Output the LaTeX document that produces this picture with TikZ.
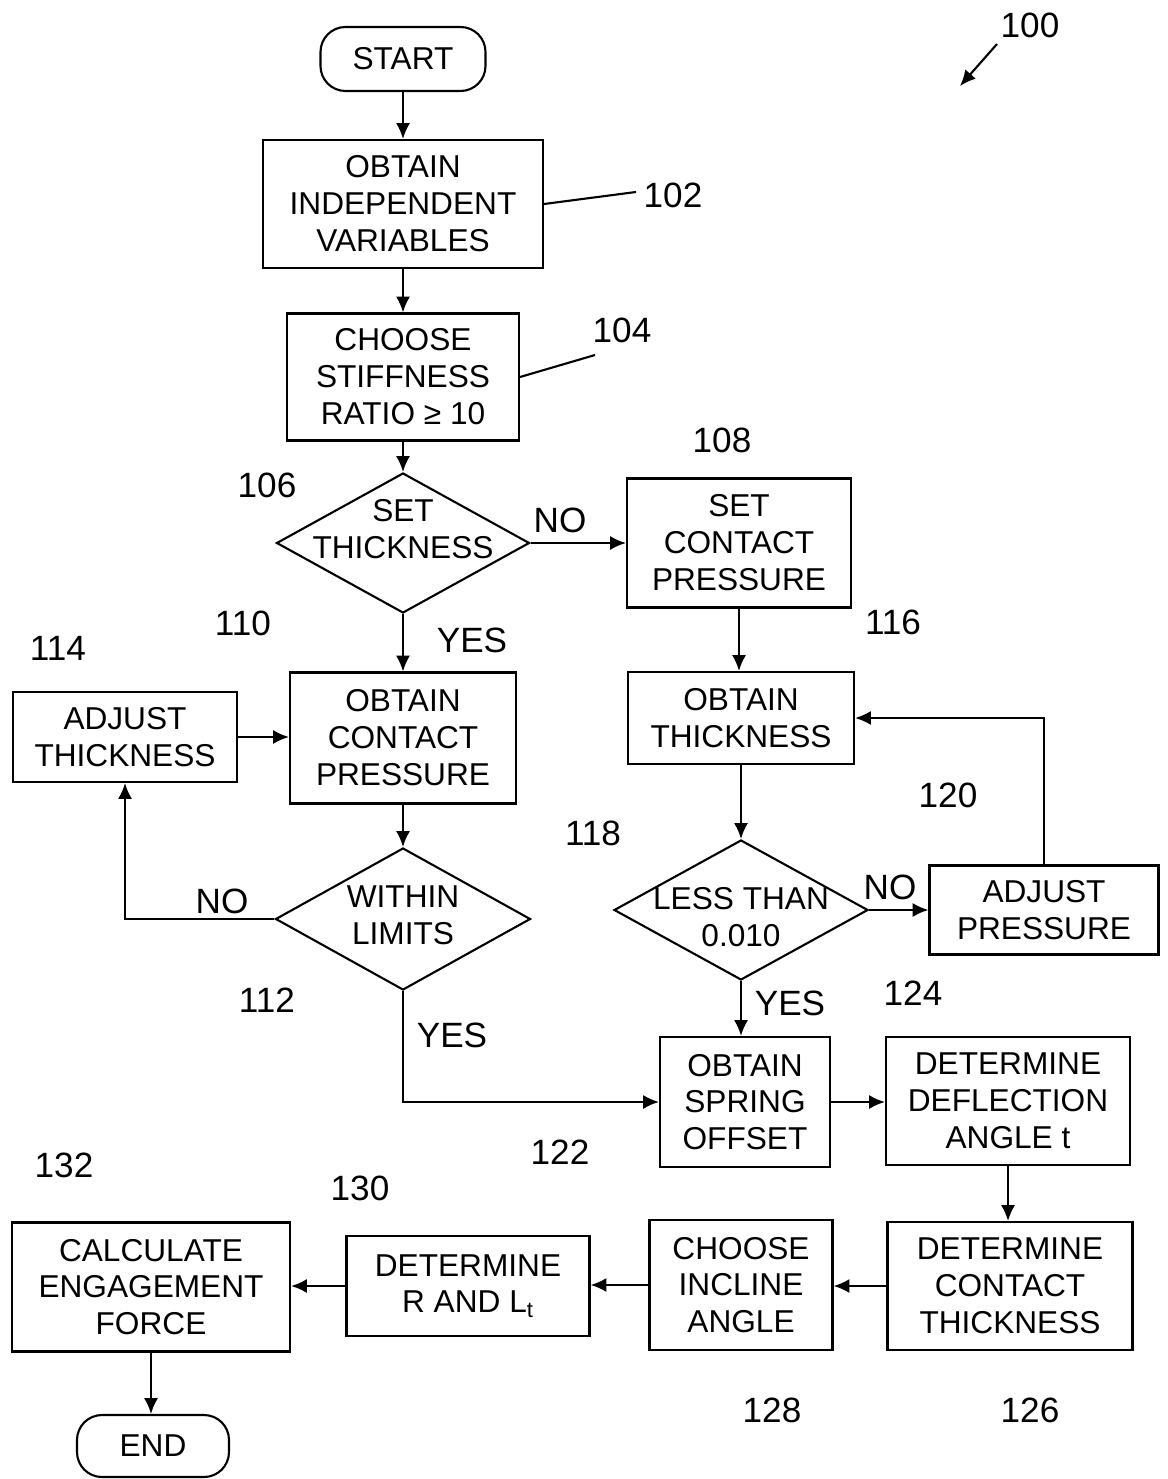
\documentclass[tikz,border=0pt]{standalone}
\usepackage{fontspec}
\setmainfont{Liberation Sans}
\usetikzlibrary{shapes.geometric,arrows.meta}
\begin{document}
\begin{tikzpicture}[x=0.02cm,y=-0.02cm,
  >={Latex[length=9pt,width=8pt]},
  every node/.style={font=\fontsize{18}{21}\selectfont, text=black},
  wh/.style 2 args={minimum width=#1*0.02cm, minimum height=#2*0.02cm},
  box/.style={draw, line width=1.2pt, align=center, inner sep=0pt},
  term/.style={box, rounded corners=0.5cm},
  decision/.style={draw, line width=1.2pt, diamond, inner sep=0pt},
  dtext/.style={align=center},
  num/.style={font=\fontsize{20}{24}\selectfont},
  yn/.style={font=\fontsize{20}{24}\selectfont},
  conn/.style={line width=1.2pt, ->},
  leader/.style={line width=1.2pt}]
\useasboundingbox (0,0) rectangle (1167,1479);

% main nodes
\node[term, wh={165}{64}] (start) at (403,59) {START};
\node[box, wh={280}{128}] (b102) at (403,204) {OBTAIN\\INDEPENDENT\\VARIABLES};
\node[box, wh={232}{127}] (b104) at (403,377) {CHOOSE\\STIFFNESS\\RATIO ≥ 10};
\node[decision, wh={253}{140}, label={[dtext, yshift=8pt]center:{SET\\THICKNESS}}] (d106) at (403,543) {};
\node[box, wh={224}{129}] (b108) at (739,543) {SET\\CONTACT\\PRESSURE};
\node[box, wh={226}{131}] (b110) at (403,738) {OBTAIN\\CONTACT\\PRESSURE};
\node[box, wh={224}{90}] (b114) at (125,737) {ADJUST\\THICKNESS};
\node[decision, wh={255}{142}, label={[dtext, yshift=2pt]center:{WITHIN\\LIMITS}}] (d112) at (403,919) {};
\node[box, wh={226}{92}] (b116) at (741,718) {OBTAIN\\THICKNESS};
\node[decision, wh={254}{140}, label={[dtext, yshift=-4pt]center:{LESS THAN\\0.010}}] (d118) at (741,910) {};
\node[box, wh={229}{89}] (b120) at (1044,910) {ADJUST\\PRESSURE};
\node[box, wh={170}{130}] (b122) at (745,1102) {OBTAIN\\SPRING\\OFFSET};
\node[box, wh={244}{128}] (b124) at (1008,1101) {DETERMINE\\DEFLECTION\\ANGLE t};
\node[box, wh={245}{128}] (b126) at (1010,1286) {DETERMINE\\CONTACT\\THICKNESS};
\node[box, wh={183}{130}] (b128) at (741,1285) {CHOOSE\\INCLINE\\ANGLE};
\node[box, wh={243}{100}] (b130) at (468,1286) {DETERMINE\\R AND L\textsubscript{t}};
\node[box, wh={278}{129}] (b132) at (151,1287) {CALCULATE\\ENGAGEMENT\\FORCE};
\node[term, wh={152}{62}] (end) at (153,1446) {END};

% reference numerals
\node[num] (n100) at (1030,25) {100};
\node[num] (n102) at (673,195) {102};
\node[num] (n104) at (622,330) {104};
\node[num] (n106) at (267,485) {106};
\node[num] (n108) at (722,440) {108};
\node[num] (n110) at (243,623) {110};
\node[num] (n114) at (58,648) {114};
\node[num] (n112) at (267,1000) {112};
\node[num] (n116) at (893,622) {116};
\node[num] (n118) at (593,833) {118};
\node[num] (n120) at (948,795) {120};
\node[num] (n124) at (913,993) {124};
\node[num] (n122) at (560,1152) {122};
\node[num] (n132) at (64,1165) {132};
\node[num] (n130) at (360,1188) {130};
\node[num] (n128) at (772,1410) {128};
\node[num] (n126) at (1030,1410) {126};

% yes / no labels
\node[yn] (no106) at (560,520) {NO};
\node[yn] (yes106) at (472,640) {YES};
\node[yn] (no112) at (222,901) {NO};
\node[yn] (yes112) at (452,1035) {YES};
\node[yn] (no118) at (890,887) {NO};
\node[yn] (yes118) at (790,1003) {YES};

% leaders and figure arrow
\coordinate (l102) at (636,192);
\coordinate (l104) at (595,355);
\coordinate (a100s) at (997,44);
\coordinate (a100e) at (960,86);
\draw[leader] (b102.east) -- (l102);
\draw[leader] (b104.east) -- (l104);
\draw[conn] (a100s) -- (a100e);

% connectors
\draw[conn] (start) -- (b102);
\draw[conn] (b102) -- (b104);
\draw[conn] (b104) -- (d106.north);
\draw[conn] (d106.east) -- (b108.west);
\draw[conn] (d106.south) -- (b110.north);
\draw[conn] (b108.south) -- (b108.south |- b116.north);
\draw[conn] (b114.east) -- (b114.east -| b110.west);
\draw[conn] (b110) -- (d112.north);
\draw[conn] (d112.west) -| (b114.south);
\draw[conn] (d112.south) |- (b122.west);
\draw[conn] (b116.south) -- (d118.north);
\draw[conn] (d118.east) -- (b120.west);
\draw[conn] (b120.north) |- (b116.east);
\draw[conn] (d118.south) -- (d118.south |- b122.north);
\draw[conn] (b122.east) -- (b124.west |- b122.east);
\draw[conn] (b124.south) -- (b124.south |- b126.north);
\draw[conn] (b126.west) -- (b128.east |- b126.west);
\draw[conn] (b128.west) -- (b130.east |- b128.west);
\draw[conn] (b130.west) -- (b132.east |- b130.west);
\draw[conn] (b132.south) -- (b132.south |- end.north);
\end{tikzpicture}
\end{document}
